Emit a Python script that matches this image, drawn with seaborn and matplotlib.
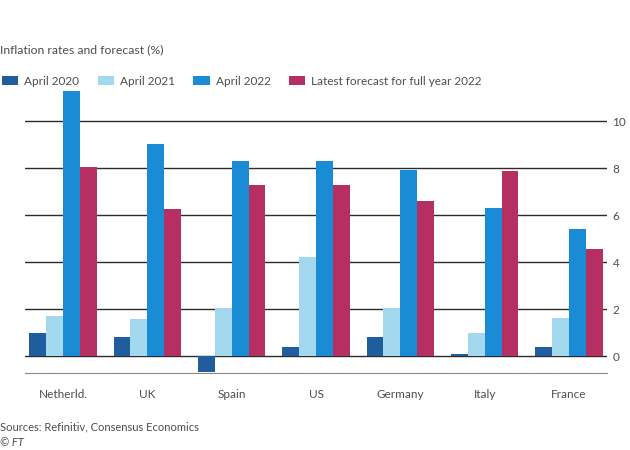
import matplotlib
matplotlib.use("Agg")
import matplotlib.pyplot as plt
import pandas as pd
import seaborn as sns
from matplotlib.patches import Patch

countries = ["Netherld.", "UK", "Spain", "US", "Germany", "Italy", "France"]
series_names = ["April 2020", "April 2021", "April 2022", "Latest forecast for full year 2022"]
april_2020 = [1.0, 0.8, -0.67, 0.37, 0.83, 0.09, 0.4]
april_2021 = [1.7, 1.56, 2.03, 4.21, 2.05, 0.98, 1.64]
april_2022 = [11.3, 9.05, 8.32, 8.32, 7.94, 6.33, 5.41]
forecast_2022 = [8.04, 6.26, 7.28, 7.28, 6.59, 7.87, 4.55]
colors = ["#205d9e", "#a3d8ef", "#1a8cd6", "#b52f62"]
yticks = [0, 2, 4, 6, 8, 10]

rows = []
for name, vals in zip(series_names, [april_2020, april_2021, april_2022, forecast_2022]):
    for c, v in zip(countries, vals):
        rows.append({"country": c, "series": name, "value": v})
df = pd.DataFrame(rows)

sns.set_style("white")
plt.rcParams["font.family"] = ["Lato", "DejaVu Sans"]
text_col = "#4d4d4d"
grid_col = "#2b2b2b"

fig = plt.figure(figsize=(6.3, 4.5), dpi=100)
ax = fig.add_axes([25 / 630, 1 - 372.5 / 450, 582 / 630, 281.5 / 450])

sns.barplot(data=df, x="country", y="value", hue="series", order=countries,
            hue_order=series_names, palette=colors, width=0.8, saturation=1,
            linewidth=0, ax=ax, legend=False, zorder=3)

ax.set_xlim(-0.45, 6.45)
ax.set_ylim(-0.7, 11.3)
ax.set_yticks(yticks)
ax.yaxis.tick_right()
ax.tick_params(axis="y", length=0, pad=4, labelsize=8.5, labelcolor=text_col)
ax.tick_params(axis="x", length=7, width=0.8, color="#888888", pad=5,
               labelsize=8.5, labelcolor=text_col)
for y in yticks:
    ax.axhline(y, color=grid_col, lw=1.0, zorder=1)
for s in ["top", "left", "right"]:
    ax.spines[s].set_visible(False)
ax.spines["bottom"].set_color("#888888")
ax.spines["bottom"].set_linewidth(0.8)
ax.set_xlabel("")
ax.set_ylabel("")

handles = [Patch(facecolor=c, edgecolor="none") for c in colors]
fig.legend(handles, series_names, loc="upper left", bbox_to_anchor=(-0.014, 0.855),
           ncol=4, frameon=False, fontsize=8.5, handlelength=1.4, handleheight=0.8,
           handletextpad=0.5, columnspacing=1.55, labelcolor=text_col)

fig.text(0.0, 1 - 50 / 450, "Inflation rates and forecast (%)", fontsize=8.8,
         color=text_col, va="center", ha="left")
fig.text(0.0, 1 - 427 / 450, "Sources: Refinitiv, Consensus Economics", fontsize=8,
         color=text_col, va="center", ha="left")
fig.text(0.0, 1 - 442 / 450, "© FT", fontsize=8, style="italic",
         color=text_col, va="center", ha="left")

fig.savefig("out.png", dpi=100, facecolor="white")
